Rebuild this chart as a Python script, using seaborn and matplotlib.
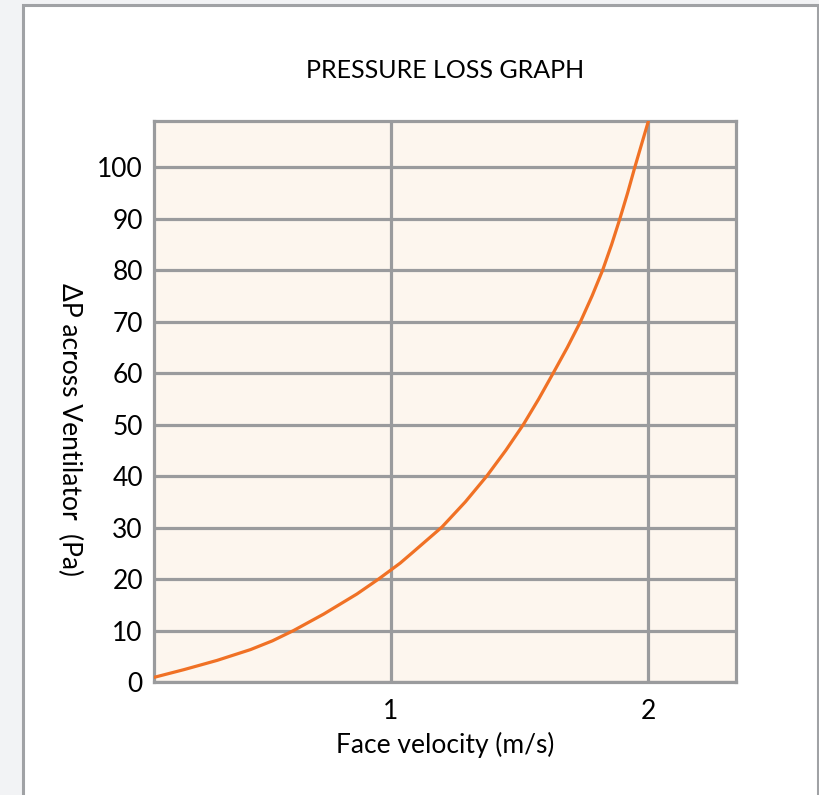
import matplotlib
matplotlib.use("Agg")
import matplotlib.pyplot as plt
from matplotlib.patches import Rectangle
import seaborn as sns
import pandas as pd

# Data
velocity = [0.08, 0.196, 0.325, 0.455, 0.54, 0.622, 0.739, 0.868, 0.952, 1.036, 1.085, 1.198,
            1.289, 1.372, 1.446, 1.514, 1.574, 1.630, 1.685, 1.736, 1.781, 1.822, 1.857,
            1.889, 1.919, 1.947, 1.974, 2.0]
pressure = [0.9, 2.4, 4.2, 6.3, 8.0, 10.0, 13.2, 17.1, 20.0, 23.1, 25.2, 30.1,
            35.0, 40.0, 45.0, 50.0, 55.0, 60.0, 65.0, 70.0, 75.0, 80.0, 85.0,
            90.0, 95.0, 100.0, 104.6, 109.0]
y_ticks = [0, 10, 20, 30, 40, 50, 60, 70, 80, 90, 100]
x_ticks = [1, 2]
x_tick_labels = ["1", "2"]

title = "PRESSURE LOSS GRAPH"
xlabel = "Face velocity (m/s)"
ylabel = "\u0394P across Ventilator  (Pa)"

sns.set_theme(style="white")
plt.rcParams['font.family'] = ['Lato', 'DejaVu Sans']

W, H = 820, 795
fig = plt.figure(figsize=(W / 100, H / 100), dpi=100, facecolor="white")

# background strip and panel border
fig.add_artist(Rectangle((0, 0), 1, 1, transform=fig.transFigure, facecolor="#f2f3f5", edgecolor="none", zorder=-10))
fig.add_artist(Rectangle((23 / W, -0.05), (818 - 23) / W, (H - 5) / H + 0.05, transform=fig.transFigure,
                         facecolor="white", edgecolor="#a0a2a5", linewidth=2.2, zorder=-9))

ax_l, ax_r, ax_t, ax_b = 154, 736, 121, 682
ax = fig.add_axes([ax_l / W, 1 - ax_b / H, (ax_r - ax_l) / W, (ax_b - ax_t) / H])
ax.set_facecolor("#fdf6ee")

df = pd.DataFrame({"v": velocity, "p": pressure})
sns.lineplot(data=df, x="v", y="p", ax=ax, color="#f07125", linewidth=2.3, zorder=5)

ax.set_xlim(0.08, 2.34)
ax.set_ylim(0, 109)
ax.set_xticks(x_ticks)
ax.set_xticklabels(x_tick_labels)
ax.set_yticks(y_ticks)

grid_c = "#9a9b9d"
ax.grid(True, color=grid_c, linewidth=2.3, zorder=1)
ax.set_axisbelow(True)
for s in ax.spines.values():
    s.set_color(grid_c)
    s.set_linewidth(2.3)
    s.set_visible(True)

ax.tick_params(axis="both", length=0, labelsize=19, labelcolor="black", pad=8)
ax.tick_params(axis="x", pad=12)

ax.set_title(title, fontsize=18, color="black", pad=31)
ax.set_xlabel(xlabel, fontsize=19, color="black", labelpad=6)
ax.set_ylabel(ylabel, fontsize=19, color="black", rotation=-90)
ax.yaxis.set_label_coords(-0.167, 0.45)

fig.savefig("out.png", dpi=100, facecolor=fig.get_facecolor())
